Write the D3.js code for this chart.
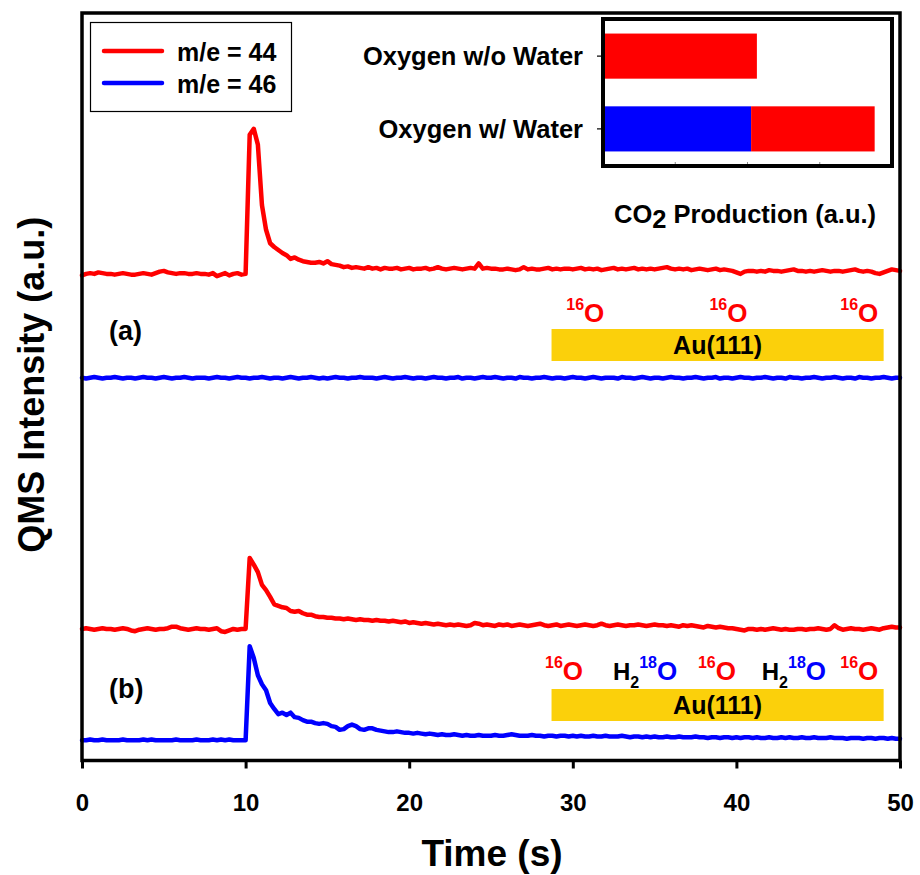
<!DOCTYPE html>
<html>
<head>
<meta charset="utf-8">
<script src="https://cdn.jsdelivr.net/npm/d3@7"></script>
<style>
  html, body { margin: 0; padding: 0; background: #fff; }
  svg { display: block; font-family: Arial, "Liberation Sans", sans-serif; font-weight: bold; }
</style>
</head>
<body>
<svg id="chart" width="920" height="875"></svg>
<script>
// ---- data -------------------------------------------------------------
// time axis, one sample every 0.25 s from 0 to 50 s
const times = d3.range(0, 50.0001, 0.25);

// (a) oxygen only: m/e = 44 (C16O2) and m/e = 46 (C16O18O), offset traces
const redA = [
  649,651,652,651,653,652,651,651,650,651, 652,651,650,650,651,652,651,650,652,654,
  655,653,652,651,652,652,651,651,652,651, 651,650,652,648,650,652,649,651,652,650,
  651,837,845,824,743,710,692,687,683,679, 676,671,673,670,668,667,666,666,667,665,
  668,664,663,662,660,661,659,660,659,658, 660,658,659,657,659,658,658,659,657,658,
  659,657,658,658,659,657,658,660,658,657, 658,659,658,657,658,659,658,665,658,659,
  658,658,657,657,658,657,656,657,660,657, 658,657,657,658,659,657,658,657,658,658,
  657,658,659,657,658,657,658,656,657,658, 659,657,658,657,658,659,657,658,657,658,
  657,658,659,660,658,657,658,657,658,656, 657,658,657,656,657,658,656,657,656,655,
  653,651,654,655,655,654,655,654,656,655, 655,654,655,656,657,655,655,654,655,654,
  655,656,655,654,655,655,654,655,656,657, 655,654,655,654,652,651,653,655,657,656,
  655
];
const blueA = [
  512,511,512,513,512,511,512,512,513,512, 511,512,512,511,512,513,512,512,511,512,
  513,512,511,512,512,513,512,511,512,512, 512,511,512,513,512,512,511,512,513,512,
  512,511,512,512,513,512,511,512,512,511, 512,513,512,511,512,512,513,512,511,512,
  511,512,513,512,512,511,512,512,513,512, 512,512,511,512,513,512,511,512,512,513,
  512,511,512,512,511,512,513,512,512,511, 512,512,513,511,512,512,511,512,513,512,
  512,513,512,511,512,512,511,513,512,512, 511,512,512,513,512,511,512,512,511,512,
  513,512,512,511,512,513,512,511,512,512, 512,511,513,512,512,511,512,513,512,511,
  512,512,511,512,513,512,512,511,512,512, 513,512,511,512,512,513,511,512,512,511,
  512,513,512,512,511,512,512,513,512,511, 512,512,511,513,512,512,511,512,512,513,
  512,511,512,512,513,512,511,512,512,511, 513,512,512,511,512,512,513,512,511,512,
  512
];

// (b) oxygen with H2(18)O co-adsorbed
const redB = [
  176,177,176,175,176,177,176,176,175,176, 177,176,174,173,175,176,177,176,175,176,
  176,177,179,179,177,176,175,176,177,176, 176,175,176,177,173,172,174,176,175,176,
  176,271,262,252,235,228,219,209,207,205, 204,200,199,200,197,195,195,193,192,192,
  191,191,190,190,189,190,189,188,189,188, 188,187,188,187,187,186,187,186,185,186,
  184,185,184,183,184,183,182,183,182,181, 182,181,182,181,180,181,184,183,181,182,
  181,180,182,181,182,180,181,182,181,180, 181,182,183,181,180,181,182,180,181,182,
  181,180,181,182,181,180,181,183,181,180, 181,182,181,180,181,181,182,181,180,181,
  182,181,181,180,181,180,179,181,180,181, 180,179,178,180,179,178,179,178,177,177,
  176,175,174,176,176,175,176,175,176,177, 176,175,176,175,175,176,176,175,176,176,
  177,176,175,176,181,177,175,176,177,176, 176,175,176,177,176,175,177,178,179,178,
  178
];
const blueB = [
  27,27,28,27,27,28,27,27,27,27, 28,27,27,27,27,28,27,28,27,27,
  27,27,27,28,27,27,27,27,28,27, 27,27,28,27,28,27,28,27,27,27,
  27,153,137,114,102,94,77,69,62,64, 61,64,58,57,54,52,52,50,49,50,
  49,46,45,41,42,46,48,46,42,41, 43,43,41,40,39,38,38,39,38,37,
  37,36,37,36,35,36,35,34,35,34, 34,35,34,33,34,33,33,34,33,33,
  33,34,33,33,34,35,34,33,33,33, 34,33,33,32,33,33,32,33,33,32,
  33,32,33,32,32,33,32,32,33,32, 32,32,33,32,31,32,32,31,32,31,
  32,31,31,32,31,31,32,31,31,31, 32,31,31,30,31,31,30,31,31,30,
  31,30,31,31,30,31,30,30,31,30, 30,31,30,31,30,30,31,30,30,31,
  30,30,30,31,30,30,30,29,30,30, 30,29,30,30,29,30,30,29,30,29,
  29
];

const xTicks = [0, 10, 20, 30, 40, 50];
const legendLabels = ["m/e = 44", "m/e = 46"];

// inset: integrated CO2 production
const insetCategories = ["Oxygen w/o Water", "Oxygen w/ Water"];
const co2Mass46 = [0, 2.05];     // C16O18O (blue)
const co2Mass44 = [2.13, 1.71];  // C16O2 (red)
const insetTicks = [1, 2, 3];

const RED = "#ff0000", BLUE = "#0000ff", GOLD = "#fbd00b";

// ---- layout -----------------------------------------------------------
const svg = d3.select("#chart");
const plot = { left: 82, right: 900, top: 13, bottom: 760.5 };

const x = d3.scaleLinear().domain([0, 50]).range([plot.left, plot.right]);
const y = d3.scaleLinear().domain([0, 1000]).range([plot.bottom, plot.top]);

// ---- traces -----------------------------------------------------------
const line = d3.line()
  .x((d, i) => x(times[i]))
  .y(d => y(d));

const traces = [
  { values: redA,  color: RED },
  { values: blueA, color: BLUE },
  { values: redB,  color: RED },
  { values: blueB, color: BLUE }
];
svg.append("g").selectAll("path")
  .data(traces)
  .join("path")
  .attr("d", d => line(d.values))
  .attr("fill", "none")
  .attr("stroke", d => d.color)
  .attr("stroke-width", 4.5)
  .attr("stroke-linejoin", "round")
  .attr("stroke-linecap", "round");

// ---- x axis and frame -------------------------------------------------
const xAxis = svg.append("g")
  .attr("transform", `translate(0,${plot.bottom})`)
  .call(d3.axisBottom(x).tickValues(xTicks).tickSize(8).tickPadding(25).tickFormat(d3.format("d")));
xAxis.select(".domain").remove();
xAxis.selectAll(".tick line").attr("stroke", "#000").attr("stroke-width", 3);
xAxis.selectAll(".tick text")
  .attr("fill", "#000")
  .style("font-size", "24px")
  .style("font-weight", "bold")
  .style("font-family", "Arial, 'Liberation Sans', sans-serif");

svg.append("rect")
  .attr("x", plot.left).attr("y", plot.top)
  .attr("width", plot.right - plot.left).attr("height", plot.bottom - plot.top)
  .attr("fill", "none").attr("stroke", "#000").attr("stroke-width", 3.5);

svg.append("text")
  .attr("x", x(25) + 1).attr("y", 866)
  .attr("text-anchor", "middle")
  .style("font-size", "37px")
  .text("Time (s)");

svg.append("text")
  .attr("transform", `translate(44,${(plot.top + plot.bottom) / 2 - 2}) rotate(-90)`)
  .attr("text-anchor", "middle")
  .style("font-size", "36px")
  .text("QMS Intensity (a.u.)");

// ---- legend -----------------------------------------------------------
const legend = svg.append("g");
legend.append("rect")
  .attr("x", 90.5).attr("y", 22.5).attr("width", 201).attr("height", 89)
  .attr("fill", "#fff").attr("stroke", "#000").attr("stroke-width", 1.2);
legendLabels.forEach((lab, i) => {
  const ly = 51 + i * 32;
  legend.append("line")
    .attr("x1", 104).attr("x2", 162).attr("y1", ly).attr("y2", ly)
    .attr("stroke", i === 0 ? RED : BLUE).attr("stroke-width", 4.5)
    .attr("stroke-linecap", "round");
  legend.append("text")
    .attr("x", 177).attr("y", ly + 10)
    .style("font-size", "25px")
    .text(lab);
});

// ---- panel labels and surface schematics ------------------------------
svg.append("text").attr("x", 109).attr("y", 340).style("font-size", "27px").text("(a)");
svg.append("text").attr("x", 109).attr("y", 698).style("font-size", "27px").text("(b)");

function goldBar(top) {
  svg.append("rect")
    .attr("x", x(28.7)).attr("y", top)
    .attr("width", x(49.0) - x(28.7)).attr("height", 32)
    .attr("fill", GOLD);
  svg.append("text")
    .attr("x", (x(28.7) + x(49.0)) / 2).attr("y", top + 25)
    .attr("text-anchor", "middle")
    .style("font-size", "25px")
    .text("Au(111)");
}
goldBar(329);
goldBar(689);

// 16O adatom label
function o16(t, base) {
  const tx = svg.append("text").attr("x", x(t)).attr("y", base).attr("fill", RED);
  tx.append("tspan").attr("dy", -12).style("font-size", "16px").text("16");
  tx.append("tspan").attr("dy", 12).style("font-size", "26px").text("O");
}
// H2 18O water label
function h218o(t, base) {
  const tx = svg.append("text").attr("x", x(t)).attr("y", base);
  tx.append("tspan").style("font-size", "24px").attr("fill", "#000").text("H");
  tx.append("tspan").attr("dy", 8).style("font-size", "16px").attr("fill", "#000").text("2");
  tx.append("tspan").attr("dy", -20).style("font-size", "16px").attr("fill", BLUE).text("18");
  tx.append("tspan").attr("dy", 12).style("font-size", "26px").attr("fill", BLUE).text("O");
}
[29.6, 38.35, 46.35].forEach(t => o16(t, 322));
o16(28.3, 680); h218o(32.45, 680); o16(37.65, 680); h218o(41.55, 680); o16(46.35, 680);

// ---- inset bar chart --------------------------------------------------
const inset = { left: 603, right: 892, top: 19, bottom: 166 };
const xi = d3.scaleLinear().domain([0, 4]).range([inset.left, inset.right]);
const yi = d3.scaleBand().domain(insetCategories)
  .range([inset.top, inset.bottom]).paddingInner(0.38).paddingOuter(0.2);

const gi = svg.append("g");
gi.append("rect")
  .attr("x", inset.left).attr("y", inset.top)
  .attr("width", inset.right - inset.left).attr("height", inset.bottom - inset.top)
  .attr("fill", "#fff");

insetCategories.forEach((c, i) => {
  const b = co2Mass46[i];
  if (b > 0) {
    gi.append("rect").attr("x", xi(0)).attr("y", yi(c))
      .attr("width", xi(b) - xi(0)).attr("height", yi.bandwidth()).attr("fill", BLUE);
  }
  gi.append("rect").attr("x", xi(b)).attr("y", yi(c))
    .attr("width", xi(b + co2Mass44[i]) - xi(b)).attr("height", yi.bandwidth()).attr("fill", RED);
});

// inset axes: small inward ticks along the bottom, outward ticks at categories
gi.selectAll(".xt").data(insetTicks).join("line")
  .attr("x1", d => xi(d)).attr("x2", d => xi(d))
  .attr("y1", inset.bottom).attr("y2", inset.bottom - 4)
  .attr("stroke", "#888").attr("stroke-width", 1);
gi.selectAll(".yt").data(insetCategories).join("line")
  .attr("x1", inset.left - 6).attr("x2", inset.left)
  .attr("y1", d => yi(d) + yi.bandwidth() / 2).attr("y2", d => yi(d) + yi.bandwidth() / 2)
  .attr("stroke", "#000").attr("stroke-width", 1.2);
gi.selectAll(".yl").data(insetCategories).join("text")
  .attr("x", inset.left - 20)
  .attr("y", d => yi(d) + yi.bandwidth() / 2 + 9)
  .attr("text-anchor", "end")
  .style("font-size", "25.5px")
  .text(d => d);

gi.append("rect")
  .attr("x", inset.left).attr("y", inset.top)
  .attr("width", inset.right - inset.left).attr("height", inset.bottom - inset.top)
  .attr("fill", "none").attr("stroke", "#000").attr("stroke-width", 4);

const co2 = gi.append("text").attr("x", 614).attr("y", 223).style("font-size", "25.5px");
co2.append("tspan").text("CO");
co2.append("tspan").attr("dy", 5).text("2");
co2.append("tspan").attr("dy", -5).text(" Production (a.u.)");
</script>
</body>
</html>
